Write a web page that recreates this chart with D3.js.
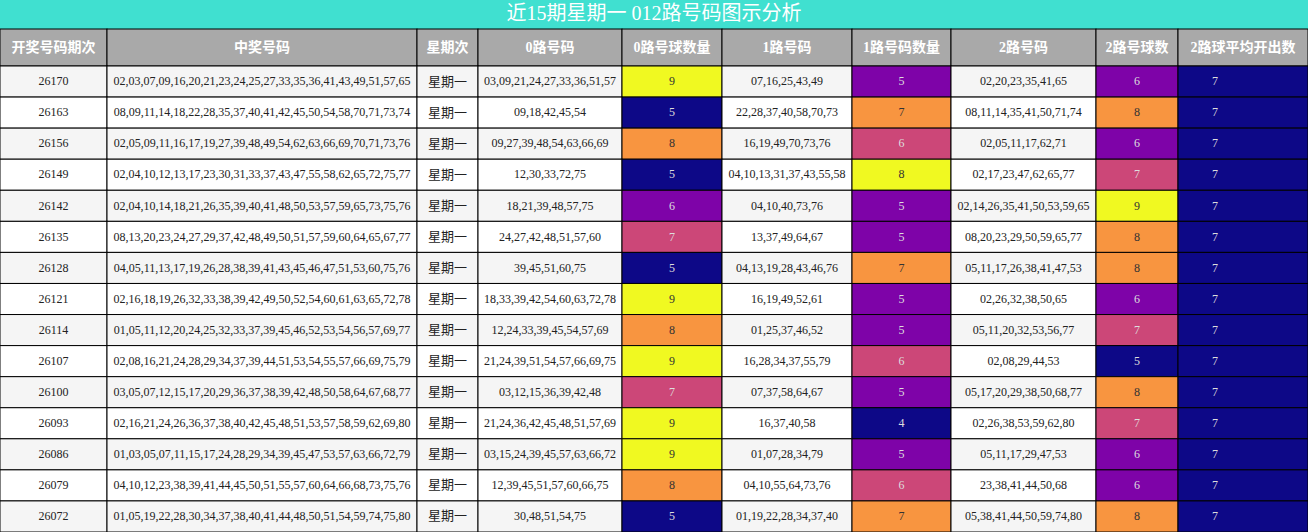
<!DOCTYPE html>
<html><head><meta charset="utf-8">
<script src="https://cdn.jsdelivr.net/npm/d3@7/dist/d3.min.js"></script>
<style>body{margin:0;background:#fff}svg{display:block}</style></head>
<body><svg id="c" width="1308" height="532"></svg>
<script>
const title = "近15期星期一 012路号码图示分析";
const headers = ["开奖号码期次","中奖号码","星期次","0路号码","0路号球数量","1路号码","1路号码数量","2路号码","2路号球数","2路球平均开出数"];
const periods = ["26170","26163","26156","26149","26142","26135","26128","26121","26114","26107","26100","26093","26086","26079","26072"];
const winning = [
"02,03,07,09,16,20,21,23,24,25,27,33,35,36,41,43,49,51,57,65",
"08,09,11,14,18,22,28,35,37,40,41,42,45,50,54,58,70,71,73,74",
"02,05,09,11,16,17,19,27,39,48,49,54,62,63,66,69,70,71,73,76",
"02,04,10,12,13,17,23,30,31,33,37,43,47,55,58,62,65,72,75,77",
"02,04,10,14,18,21,26,35,39,40,41,48,50,53,57,59,65,73,75,76",
"08,13,20,23,24,27,29,37,42,48,49,50,51,57,59,60,64,65,67,77",
"04,05,11,13,17,19,26,28,38,39,41,43,45,46,47,51,53,60,75,76",
"02,16,18,19,26,32,33,38,39,42,49,50,52,54,60,61,63,65,72,78",
"01,05,11,12,20,24,25,32,33,37,39,45,46,52,53,54,56,57,69,77",
"02,08,16,21,24,28,29,34,37,39,44,51,53,54,55,57,66,69,75,79",
"03,05,07,12,15,17,20,29,36,37,38,39,42,48,50,58,64,67,68,77",
"02,16,21,24,26,36,37,38,40,42,45,48,51,53,57,58,59,62,69,80",
"01,03,05,07,11,15,17,24,28,29,34,39,45,47,53,57,63,66,72,79",
"04,10,12,23,38,39,41,44,45,50,51,55,57,60,64,66,68,73,75,76",
"01,05,19,22,28,30,34,37,38,40,41,44,48,50,51,54,59,74,75,80"];
const weekday = "星期一";
const road0 = ["03,09,21,24,27,33,36,51,57","09,18,42,45,54","09,27,39,48,54,63,66,69","12,30,33,72,75","18,21,39,48,57,75","24,27,42,48,51,57,60","39,45,51,60,75","18,33,39,42,54,60,63,72,78","12,24,33,39,45,54,57,69","21,24,39,51,54,57,66,69,75","03,12,15,36,39,42,48","21,24,36,42,45,48,51,57,69","03,15,24,39,45,57,63,66,72","12,39,45,51,57,60,66,75","30,48,51,54,75"];
const count0 = [9,5,8,5,6,7,5,9,8,9,7,9,9,8,5];
const road1 = ["07,16,25,43,49","22,28,37,40,58,70,73","16,19,49,70,73,76","04,10,13,31,37,43,55,58","04,10,40,73,76","13,37,49,64,67","04,13,19,28,43,46,76","16,19,49,52,61","01,25,37,46,52","16,28,34,37,55,79","07,37,58,64,67","16,37,40,58","01,07,28,34,79","04,10,55,64,73,76","01,19,22,28,34,37,40"];
const count1 = [5,7,6,8,5,5,7,5,5,6,5,4,5,6,7];
const road2 = ["02,20,23,35,41,65","08,11,14,35,41,50,71,74","02,05,11,17,62,71","02,17,23,47,62,65,77","02,14,26,35,41,50,53,59,65","08,20,23,29,50,59,65,77","05,11,17,26,38,41,47,53","02,26,32,38,50,65","05,11,20,32,53,56,77","02,08,29,44,53","05,17,20,29,38,50,68,77","02,26,38,53,59,62,80","05,11,17,29,47,53","23,38,41,44,50,68","05,38,41,44,50,59,74,80"];
const count2 = [6,8,6,7,9,8,8,6,7,5,8,7,6,6,8];
const avg2 = [7,7,7,7,7,7,7,7,7,7,7,7,7,7,7];

const colW = [107,310,61,144,100,130,99,145,82,130];
const W=1308,H=532,titleH=29,headH=37;
const svg=d3.select("#c");
const font="'Liberation Serif','DejaVu Serif','Noto Sans CJK SC',serif";
svg.append("rect").attr("width",W).attr("height",titleH).attr("fill","#40e0d0");
svg.append("text").attr("x",W/2).attr("y",titleH/2+1).attr("text-anchor","middle").attr("dominant-baseline","middle")
 .attr("fill","#fff").attr("font-size",20).attr("font-family",font).text(title);
const edges=[0];colW.forEach(w=>edges.push(edges[edges.length-1]+w));
const x=d3.scaleOrdinal().domain(d3.range(10)).range(edges.slice(0,10));
const y=d3.scaleBand().domain(d3.range(periods.length)).range([titleH+headH,H]);
const plasma=["#0d0887","#7e03a8","#cc4778","#f89540","#f0f921"];
function cscale(arr){const e=d3.extent(arr);return v=>{if(e[0]===e[1])return plasma[0];const t=(v-e[0])/(e[1]-e[0]);return plasma[Math.round(t*4)];};}
const cs=[cscale(count0),cscale(count1),cscale(count2),cscale(avg2)];
const hg=svg.append("g");
headers.forEach((h,i)=>{
 hg.append("rect").attr("x",x(i)).attr("y",titleH).attr("width",colW[i]).attr("height",headH).attr("fill","#a9a9a9").attr("stroke","#000").attr("stroke-width",1);
 hg.append("text").attr("x",x(i)+colW[i]/2).attr("y",titleH+headH/2+1).attr("text-anchor","middle").attr("dominant-baseline","middle")
  .attr("fill","#fff").attr("font-weight","bold").attr("font-size",14).attr("font-family",font).text(h);
});
const rows=periods.map((p,i)=>[p,winning[i],weekday,road0[i],count0[i],road1[i],count1[i],road2[i],count2[i],avg2[i]]);
const colorCols={4:0,6:1,8:2,9:3};
rows.forEach((r,ri)=>{
 const g=svg.append("g");
 r.forEach((v,ci)=>{
  let fill=ri%2===0?"#f5f5f5":"#ffffff",tc="#222";
  if(ci in colorCols){fill=cs[colorCols[ci]](v);const k=plasma.indexOf(fill);tc=k>=3?"#333":"#ddd";}
  const tx = ci===9 ? x(ci)+37 : x(ci)+colW[ci]/2;
  g.append("rect").attr("x",x(ci)).attr("y",y(ri)).attr("width",colW[ci]).attr("height",y.bandwidth()).attr("fill",fill).attr("stroke","#000").attr("stroke-width",1);
  g.append("text").attr("x",tx).attr("y",y(ri)+y.bandwidth()/2+1).attr("text-anchor","middle").attr("dominant-baseline","middle")
   .attr("fill",tc).attr("font-size",ci===2?13:12).attr("font-family",font).text(v);
 });
});
</script></body></html>
